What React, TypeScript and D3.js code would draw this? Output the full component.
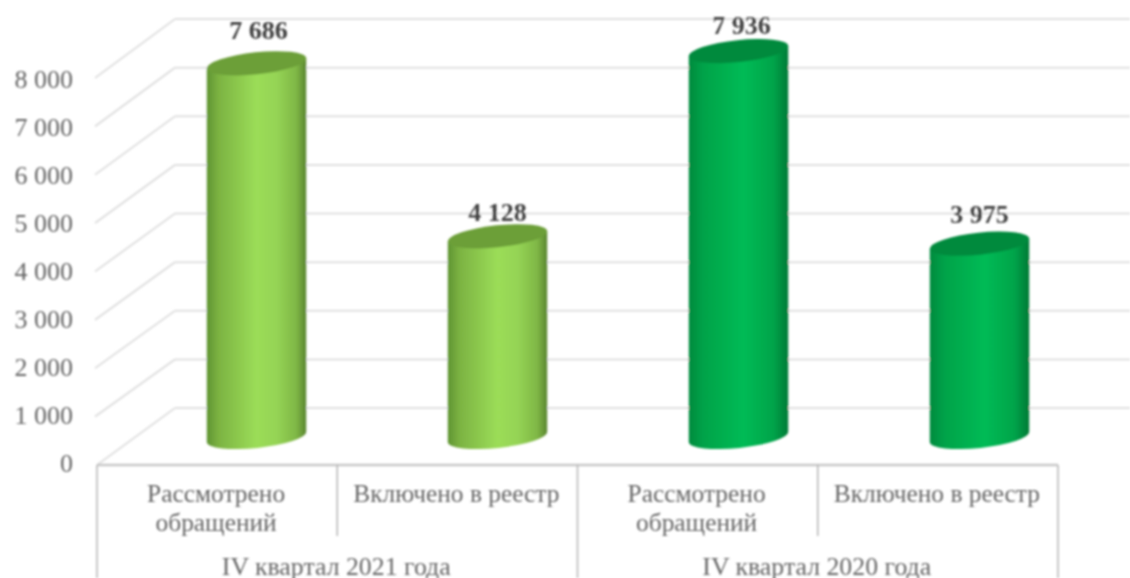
import React from "react";
import * as d3 from "d3";

const categories = ["Рассмотрено обращений", "Включено в реестр", "Рассмотрено обращений", "Включено в реестр"];
const groups = ["IV квартал 2021 года", "IV квартал 2020 года"];
const values = [7686, 4128, 7936, 3975];
const yTicks = [0, 1000, 2000, 3000, 4000, 5000, 6000, 7000, 8000];
const barGroup = [0, 0, 1, 1];

const width = 1130;
const height = 578;
const serif = "'Liberation Serif', 'Times New Roman', serif";

// thousands with a space, like the original labels
const fmt = (v: number) => d3.format(",")(v).replace(/,/g, " ");

const App = () => {
  // the chart is a fake 3d box: front edge, back wall, bars stand in the middle
  const yFront = d3.scaleLinear().domain([0, 8000]).range([465, 78]);
  const yBack = d3.scaleLinear().domain([0, 8000]).range([408, 19]);
  const yBar = d3.scaleLinear().domain([0, 8000]).range([437, 48]);
  const yLabel = d3.scaleLinear().domain([0, 8000]).range([463, 79]);

  const idx = categories.map((_, i) => i);
  const xFront = d3.scaleBand<number>().domain(idx).range([97, 1058]);
  const xBar = d3.scaleBand<number>().domain(idx).range([136, 1100]);

  const rx = 50;
  const ry = 11;
  const tilt = -6;
  const rad = (tilt * Math.PI) / 180;
  const ex = rx * Math.cos(rad);
  const ey = rx * Math.sin(rad);

  // the data labels were nudged by hand in the source chart
  const labelDy = [-33, -24, -26, -29];

  return (
    <svg
      width={width}
      height={height}
      style={{ position: "absolute", left: 0, top: 0, display: "block", background: "#fff" }}
    >
      <defs>
        <filter id="soft" x="-5%" y="-5%" width="110%" height="110%">
          <feGaussianBlur stdDeviation="0.8" />
        </filter>
        <linearGradient id="light">
          <stop offset="0" stopColor="#5f9433" />
          <stop offset="0.12" stopColor="#7cb342" />
          <stop offset="0.5" stopColor="#9bdd58" />
          <stop offset="0.7" stopColor="#95d455" />
          <stop offset="0.9" stopColor="#7fb746" />
          <stop offset="1" stopColor="#5a8530" />
        </linearGradient>
        <linearGradient id="dark">
          <stop offset="0" stopColor="#008a3e" />
          <stop offset="0.15" stopColor="#00a349" />
          <stop offset="0.55" stopColor="#00bb55" />
          <stop offset="0.85" stopColor="#00a44a" />
          <stop offset="1" stopColor="#007a36" />
        </linearGradient>
      </defs>
      <g filter="url(#soft)">
        {/* gridlines */}
        {yTicks.map((t) => (
          <g key={t} fill="none" stroke="#e0e0e0" strokeWidth={2}>
            <line x1={t === 0 ? 97 : 95} y1={yFront(t)} x2={175} y2={yBack(t)} />
            <line x1={175} y1={yBack(t)} x2={width} y2={yBack(t)} />
          </g>
        ))}

        {/* y axis labels */}
        {yTicks.map((t) => (
          <text
            key={t}
            x={73}
            y={yLabel(t)}
            textAnchor="end"
            dominantBaseline="central"
            fontFamily={serif}
            fontSize={26}
            fill="#666"
          >
            {fmt(t)}
          </text>
        ))}

        {/* category table under the chart */}
        <line x1={97} y1={465} x2={1058} y2={465} stroke="#c8c8c8" strokeWidth={2.5} />
        {idx.concat(4).map((i) => {
          const x = i === 4 ? 1058 : (xFront(i) as number);
          const isGroupEdge = i % 2 === 0;
          return (
            <line key={i} x1={x} y1={465} x2={x} y2={isGroupEdge ? height : 536} stroke="#b5b5b5" strokeWidth={1.5} />
          );
        })}
        {categories.map((c, i) => {
          const cx = (xFront(i) as number) + xFront.bandwidth() / 2;
          const words = c.length > 20 ? c.split(" ") : [c];
          return words.map((w, j) => (
            <text
              key={i + "-" + j}
              x={cx - 1}
              y={493 + j * 29}
              textAnchor="middle"
              dominantBaseline="central"
              fontFamily={serif}
              fontSize={25.4}
              fill="#666"
            >
              {w}
            </text>
          ));
        })}
        {groups.map((g, k) => {
          const members = idx.filter((i) => barGroup[i] === k);
          const cx = d3.mean(members, (i) => (xFront(i) as number) + xFront.bandwidth() / 2) as number;
          return (
            <text
              key={g}
              x={cx - 1}
              y={566}
              textAnchor="middle"
              dominantBaseline="central"
              fontFamily={serif}
              fontSize={25.8}
              fill="#666"
            >
              {g}
            </text>
          );
        })}

        {/* cylinders */}
        {values.map((v, i) => {
          const cx = (xBar(i) as number) + xBar.bandwidth() / 2;
          const top = yBar(v);
          const bottom = yBar(0);
          const body =
            `M${cx - ex},${top - ey} L${cx - ex},${bottom - ey} ` +
            `A${rx},${ry} ${tilt} 0 0 ${cx + ex},${bottom + ey} ` +
            `L${cx + ex},${top + ey} Z`;
          return (
            <g key={i}>
              <path d={body} fill={barGroup[i] === 0 ? "url(#light)" : "url(#dark)"} />
              <ellipse
                cx={cx}
                cy={top}
                rx={rx}
                ry={ry}
                transform={`rotate(${tilt} ${cx} ${top})`}
                fill={barGroup[i] === 0 ? "#6c9f38" : "#008a3e"}
              />
              <text
                x={cx + (i === 0 ? 2 : i === 2 ? 3 : 0)}
                y={top + labelDy[i]}
                textAnchor="middle"
                dominantBaseline="central"
                fontFamily={serif}
                fontSize={26}
                fontWeight="bold"
                fill="#404040"
              >
                {fmt(v)}
              </text>
            </g>
          );
        })}
      </g>
    </svg>
  );
};

export default App;
